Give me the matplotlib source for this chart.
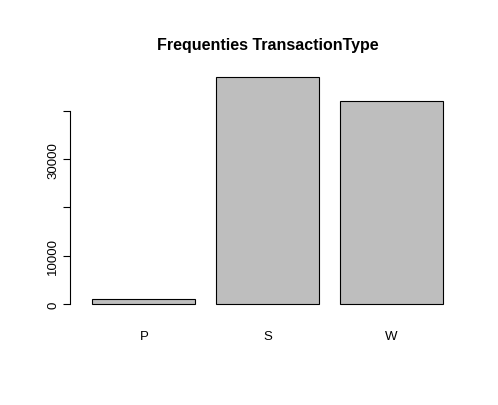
import matplotlib
matplotlib.use("Agg")
import matplotlib.pyplot as plt

plt.rcParams["font.family"] = ["Liberation Sans", "DejaVu Sans"]

# Data
categories = ["P", "S", "W"]
counts = [1000, 47000, 42000]
yticks = [0, 10000, 20000, 30000, 40000]
ytick_labels = ["0", "10000", "", "30000", ""]

fig = plt.figure(figsize=(4.98, 4.06), dpi=100)
ax = fig.add_axes([0.157, 0.2266, 0.761, 0.603])

lefts = [0.2 + 1.2 * i for i in range(len(categories))]
ax.bar(lefts, counts, width=1.0, align="edge", color="#bebebe",
       edgecolor="black", linewidth=0.8)

ax.set_xlim(0.064, 3.736)
ax.set_ylim(-1880, 48880)

for s in ["top", "right", "bottom"]:
    ax.spines[s].set_visible(False)
ax.spines["left"].set_position(("outward", 5.8))
ax.spines["left"].set_bounds(0, 40000)
ax.spines["left"].set_linewidth(0.8)

ax.set_yticks(yticks)
ax.set_yticklabels(ytick_labels, rotation=90, va="center", fontsize=9.5)
ax.tick_params(axis="y", length=5, width=0.8, pad=3)

ax.set_xticks([l + 0.5 for l in lefts])
ax.set_xticklabels(categories, fontsize=9.5)
ax.tick_params(axis="x", length=0, pad=12)

ax.set_title("Frequenties TransactionType", fontsize=11.5, fontweight="bold", pad=14)

fig.savefig("out.png", dpi=100)
